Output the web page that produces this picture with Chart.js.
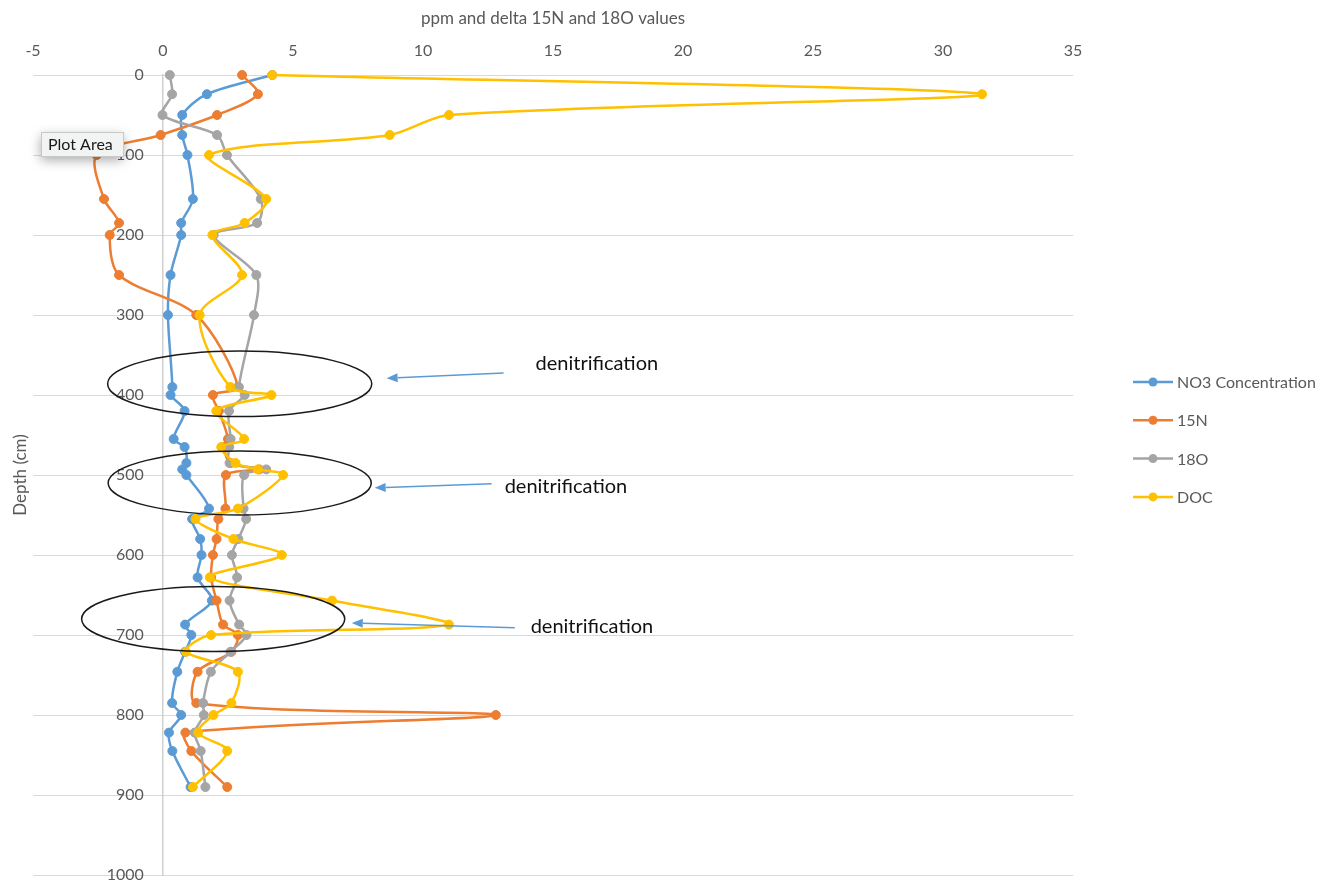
<!DOCTYPE html>
<html>
<head>
<meta charset="utf-8">
<script src="https://cdn.jsdelivr.net/npm/chart.js@4.4.1/dist/chart.umd.min.js"></script>
<style>
  html, body { margin: 0; padding: 0; background: #ffffff; }
  #wrap { width: 1335px; height: 888px; position: relative; }
</style>
</head>
<body>
<div id="wrap"><canvas id="c" width="1335" height="888"></canvas></div>
<script>
// Sampling depths (cm) shared by all profiles
const depths = [0, 24, 50, 75, 100, 155, 185, 200, 250, 300, 390, 400, 420, 455, 465, 485, 493, 500,
                542, 555, 580, 600, 628, 657, 687, 700, 721, 746, 785, 800, 822, 845, 890];

// NO3 concentration (ppm)
const no3 = [4.2, 1.69, 0.74, 0.74, 0.94, 1.15, 0.7, 0.7, 0.29, 0.19, 0.36, 0.29, 0.83, 0.41, 0.83, 0.9, 0.74, 0.9,
             1.77, 1.12, 1.43, 1.48, 1.33, 1.88, 0.85, 1.09, 0.85, 0.55, 0.35, 0.7, 0.23, 0.36, 1.06];

// delta 15N
const n15 = [3.04, 3.65, 2.08, -0.09, -2.55, -2.27, -1.69, -2.05, -1.69, 1.28, 2.88, 1.92, 2.15, 2.5, 2.35, 2.6, 3.7, 2.42,
             2.4, 2.13, 2.06, 1.92, 1.85, 2.06, 2.31, 2.88, 2.63, 1.33, 1.28, 12.8, 0.86, 1.09, 2.47];

// delta 18O
const o18 = [0.26, 0.35, -0.02, 2.08, 2.46, 3.76, 3.62, 1.95, 3.59, 3.5, 2.92, 3.14, 2.54, 2.6, 2.55, 2.56, 3.97, 3.12,
             3.1, 3.2, 2.9, 2.65, 2.85, 2.56, 2.93, 3.21, 2.6, 1.84, 1.54, 1.57, 1.22, 1.45, 1.63];

// Dissolved organic carbon (ppm)
const doc = [4.2, 31.5, 11.0, 8.72, 1.77, 3.97, 3.14, 1.9, 3.04, 1.41, 2.59, 4.17, 2.05, 3.12, 2.24, 2.79, 3.65, 4.62,
             2.88, 1.25, 2.71, 4.57, 1.8, 6.5, 11.0, 1.85, 0.88, 2.88, 2.63, 1.94, 1.35, 2.47, 1.15];

const seriesNames = ['NO3 Concentration', '15N', '18O', 'DOC'];
const xTitle = 'ppm and delta 15N and 18O values';
const yTitle = 'Depth (cm)';
const xRange = [-5, 35, 5];       // min, max, step
const depthRange = [0, 1000, 100];

const noteText = 'denitrification';

// Annotation shapes, in data units (x value, depth)
const ellipses = [
  { cx: 2.95, cy: 386, rx: 5.08, ry: 41 },
  { cx: 2.95, cy: 510, rx: 5.06, ry: 40 },
  { cx: 1.93, cy: 680, rx: 5.06, ry: 40.6 }
];
const arrows = [
  { from: [13.1, 372.5], to: [8.6, 379], text: [14.33, 361] },
  { from: [12.64, 511],  to: [8.14, 516], text: [13.14, 515] },
  { from: [13.53, 691],  to: [7.26, 685], text: [14.14, 689] }
];

const FONT = 'Lato, "Liberation Sans", sans-serif';
const GREY_TEXT = '#595959';
const colors = ['#5B9BD5', '#ED7D31', '#A5A5A5', '#FFC000'];

function toPoints(vals) {
  return vals.map((v, i) => ({ x: v, y: depths[i] }));
}

const datasets = [no3, n15, o18, doc].map((vals, i) => ({
  label: seriesNames[i],
  data: toPoints(vals),
  borderColor: colors[i],
  backgroundColor: colors[i],
  pointBackgroundColor: colors[i],
  pointBorderColor: colors[i],
  pointRadius: 4.5,
  pointHoverRadius: 4.5,
  pointBorderWidth: 1,
  borderWidth: 2.5,
  tension: 0.3,
  showLine: true,
  clip: false,
  order: 4 - i
}));

// Notes, legend and hover-label drawn over the plot
const overlay = {
  id: 'overlay',
  afterDraw(chart) {
    const ctx = chart.ctx;
    const xs = chart.scales.x, ys = chart.scales.y;
    const px = v => xs.getPixelForValue(v);
    const py = v => ys.getPixelForValue(v);

    ctx.save();
    // ellipses
    ctx.strokeStyle = '#1a1a1a';
    ctx.lineWidth = 1.5;
    ellipses.forEach(e => {
      const cx = px(e.cx), cy = py(e.cy);
      const rx = px(e.cx + e.rx) - cx;
      const ry = py(e.cy + e.ry) - cy;
      ctx.beginPath();
      ctx.ellipse(cx, cy, Math.abs(rx), Math.abs(ry), 0, 0, Math.PI * 2);
      ctx.stroke();
    });

    // arrows and labels
    arrows.forEach(a => {
      const x1 = px(a.from[0]), y1 = py(a.from[1]);
      const x2 = px(a.to[0]), y2 = py(a.to[1]);
      const ang = Math.atan2(y2 - y1, x2 - x1);
      const headLen = 11, headW = 4.5;
      const bx = x2 - headLen * Math.cos(ang), by = y2 - headLen * Math.sin(ang);
      ctx.strokeStyle = '#5B9BD5';
      ctx.fillStyle = '#5B9BD5';
      ctx.lineWidth = 1.5;
      ctx.beginPath();
      ctx.moveTo(x1, y1);
      ctx.lineTo(bx, by);
      ctx.stroke();
      ctx.beginPath();
      ctx.moveTo(x2, y2);
      ctx.lineTo(bx + headW * Math.sin(ang), by - headW * Math.cos(ang));
      ctx.lineTo(bx - headW * Math.sin(ang), by + headW * Math.cos(ang));
      ctx.closePath();
      ctx.fill();

      ctx.fillStyle = '#111111';
      ctx.font = '20px ' + FONT;
      ctx.textAlign = 'left';
      ctx.textBaseline = 'middle';
      ctx.fillText(noteText, px(a.text[0]), py(a.text[1]));
    });

    // legend
    const lx = 1133, ly0 = 382, gap = 38.3;
    chart.data.datasets.forEach((ds, i) => {
      const y = ly0 + i * gap;
      ctx.strokeStyle = ds.borderColor;
      ctx.lineWidth = 2.5;
      ctx.beginPath();
      ctx.moveTo(lx, y);
      ctx.lineTo(lx + 40, y);
      ctx.stroke();
      ctx.fillStyle = ds.borderColor;
      ctx.beginPath();
      ctx.arc(lx + 20, y, 4.5, 0, Math.PI * 2);
      ctx.fill();
      ctx.fillStyle = GREY_TEXT;
      ctx.font = '16px ' + FONT;
      ctx.textAlign = 'left';
      ctx.textBaseline = 'middle';
      ctx.fillText(ds.label, lx + 44, y + 1);
    });

    // "Plot Area" hover label
    ctx.save();
    ctx.shadowColor = 'rgba(0,0,0,0.35)';
    ctx.shadowBlur = 12;
    ctx.shadowOffsetY = 4;
    ctx.fillStyle = '#f2f3f3';
    ctx.fillRect(41, 132, 82, 24);
    ctx.restore();
    ctx.strokeStyle = '#c8c8c8';
    ctx.lineWidth = 1;
    ctx.strokeRect(41.5, 132.5, 82, 24);
    ctx.fillStyle = '#1a1a1a';
    ctx.font = '16px ' + FONT;
    ctx.textAlign = 'left';
    ctx.textBaseline = 'middle';
    ctx.fillText('Plot Area', 48, 145);
    ctx.restore();
  }
};

new Chart(document.getElementById('c'), {
  type: 'scatter',
  data: { datasets },
  plugins: [overlay],
  options: {
    responsive: false,
    animation: false,
    devicePixelRatio: 1,
    layout: { padding: { top: 0, left: 0, right: 262, bottom: 13 } },
    plugins: { legend: { display: false }, tooltip: { enabled: false } },
    events: [],
    scales: {
      x: {
        type: 'linear',
        position: 'top',
        min: xRange[0], max: xRange[1],
        ticks: { stepSize: xRange[2], color: GREY_TEXT, font: { family: FONT, size: 16 }, padding: 15 },
        grid: { display: false, drawTicks: false },
        border: { display: false },
        title: { display: true, text: xTitle, color: GREY_TEXT, font: { family: FONT, size: 17 }, padding: { top: 8, bottom: 0 } },
        afterFit(s) { s.height = 75; }
      },
      yTitle: {
        type: 'linear',
        axis: 'y',
        position: 'left',
        min: depthRange[0], max: depthRange[1], reverse: true,
        ticks: { display: false },
        grid: { display: false, drawTicks: false },
        border: { display: false },
        title: { display: true, text: yTitle, color: GREY_TEXT, font: { family: FONT, size: 17 }, padding: { top: 10, bottom: 0 } },
        afterFit(s) { s.width = 33; }
      },
      y: {
        type: 'linear',
        axis: 'y',
        position: { x: 0 },
        min: depthRange[0], max: depthRange[1], reverse: true,
        ticks: { display: false, stepSize: depthRange[2] },
        grid: { color: '#d9d9d9', lineWidth: 1, drawTicks: false },
        border: { color: '#d0d0d0', width: 1.5 }
      },
      yLabels: {
        type: 'linear',
        axis: 'y',
        position: { x: -0.74 },
        min: depthRange[0], max: depthRange[1], reverse: true,
        ticks: {
          stepSize: depthRange[2], color: GREY_TEXT, font: { family: FONT, size: 16 }, padding: 0,
          callback: v => String(v)
        },
        grid: { display: false, drawTicks: false },
        border: { display: false }
      }
    }
  }
});
</script>
</body>
</html>
